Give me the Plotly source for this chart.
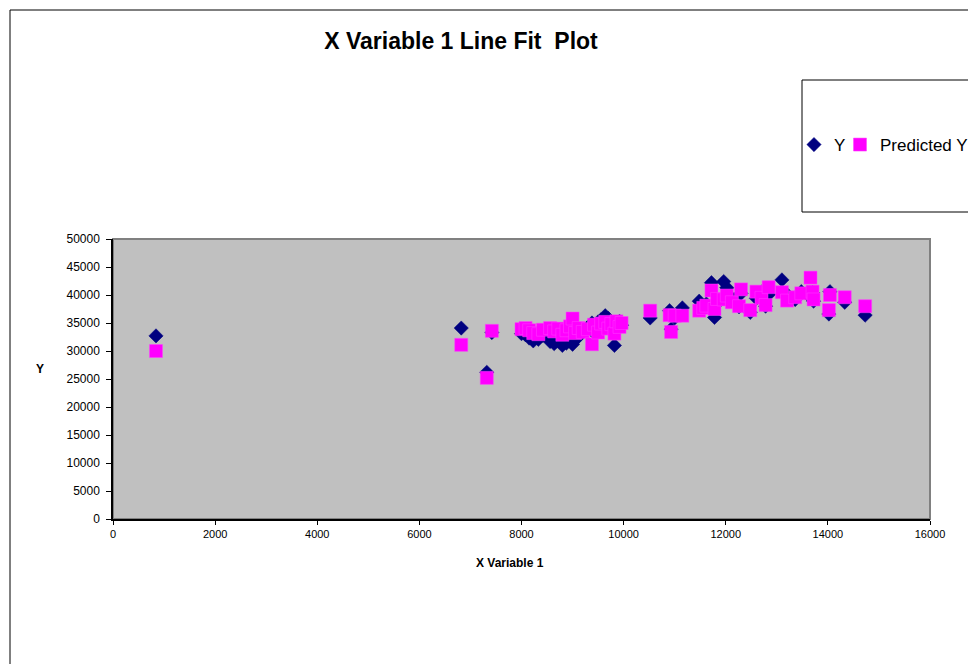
import plotly.graph_objects as go

# ---- data ----
x_var = [842, 6820, 7320, 7420, 8000, 8080, 8150, 8230, 8330, 8420, 8560, 8640, 8720, 8800,
         8880, 8950, 9000, 9050, 9120, 9200, 9300, 9380, 9420, 9500, 9560, 9640, 9700, 9760,
         9820, 9860, 9920, 9960, 10520, 10900, 10930, 11000, 11150, 11480, 11560, 11620,
         11720, 11780, 11830, 11960, 12020, 12120, 12300, 12260, 12480, 12600, 12700, 12840,
         12780, 13100, 13200, 13360, 13480, 13660, 13700, 13720, 14040, 14020, 14330, 14730]
y_obs = [32700, 34100, 26200, 33300, 33100, 32900, 32300, 31800, 32100, 32800, 31700, 31300,
         32200, 31000, 31400, 32600, 31200, 32000, 32600, 33500, 34200, 35000, 33300, 35200,
         35600, 36300, 35800, 34400, 31000, 34800, 35300, 34600, 35900, 37200, 33900, 35900,
         37700, 38900, 37600, 38400, 42200, 36000, 38500, 42400, 41300, 39400, 40300, 37900,
         36900, 39400, 40500, 40100, 38000, 42700, 40100, 39200, 40600, 39600, 40400, 38900,
         40600, 36600, 38700, 36400]
y_pred = [30000, 31100, 25200, 33600, 33900, 34100, 33700, 33200, 33000, 33800, 34100, 33500,
          34000, 32900, 33700, 34400, 35800, 33200, 34100, 33400, 33900, 31200, 34700, 33300,
          34900, 35200, 34000, 34800, 33100, 35300, 34300, 35000, 37200, 36400, 33400, 36300,
          36300, 37200, 37700, 38100, 40800, 37500, 39300, 39200, 39900, 38700, 41000, 38000,
          37300, 40600, 39500, 41400, 38200, 40500, 39000, 39600, 40300, 43100, 40600, 39200,
          40000, 37300, 39600, 38000]

x_ticks = [0, 2000, 4000, 6000, 8000, 10000, 12000, 14000, 16000]
y_ticks = [0, 5000, 10000, 15000, 20000, 25000, 30000, 35000, 40000, 45000, 50000]

title_text = "X Variable 1 Line Fit  Plot"
x_title = "X Variable 1"
y_title = "Y"

FONT = "Liberation Sans, Arial, sans-serif"

fig = go.Figure()
fig.add_trace(go.Scatter(
    x=x_var, y=y_obs, mode="markers", name="Y",
    marker=dict(symbol="diamond", size=11, color="#000080",
                line=dict(color="#000080", width=0.5)),
    legend="legend",
))
fig.add_trace(go.Scatter(
    x=x_var, y=y_pred, mode="markers", name="Predicted Y",
    marker=dict(symbol="square", size=13, color="#FF00FF",
                line=dict(color="#FF40FF", width=0.5)),
    legend="legend2",
))

# pixel geometry of the plot area
L, R, T, B = 113, 930, 239, 519
W, H = 968, 664
pw, ph = R - L, B - T

def px(xp):
    return (xp - L) / pw

def py(yp):
    return (B - yp) / ph

fig.update_layout(
    width=W, height=H,
    margin=dict(l=L, r=W - R, t=T, b=H - B, pad=0, autoexpand=False),
    paper_bgcolor="white",
    plot_bgcolor="#C0C0C0",
    font=dict(family=FONT, color="black", size=12),
    title=dict(text="<b>" + title_text + "</b>", x=461 / W, xanchor="center",
               y=1 - 41 / H, yanchor="middle", yref="container",
               font=dict(family=FONT, size=23, color="black")),
    xaxis=dict(range=[0, 16000], tickvals=x_ticks, ticktext=[str(v) for v in x_ticks],
               showgrid=False, zeroline=False, showline=True, linecolor="black",
               linewidth=1.5, ticks="outside", ticklen=4, tickcolor="black",
               tickfont=dict(size=11), fixedrange=True),
    yaxis=dict(range=[0, 50000], tickvals=y_ticks, ticktext=[str(v) for v in y_ticks],
               showgrid=False, zeroline=False, showline=True, linecolor="black",
               linewidth=1.5, ticks="outside", ticklen=5, tickcolor="black",
               ticklabelstandoff=4,
               tickfont=dict(size=12), fixedrange=True),
    legend=dict(orientation="h", x=px(794), y=py(145), xanchor="left", yanchor="middle",
                bgcolor="rgba(0,0,0,0)", borderwidth=0, font=dict(size=17),
                itemwidth=30),
    legend2=dict(orientation="h", x=px(840), y=py(145), xanchor="left", yanchor="middle",
                 bgcolor="rgba(0,0,0,0)", borderwidth=0, font=dict(size=17),
                 itemwidth=30),
    showlegend=True,
)

shapes = [
    # plot-area border (gray)
    dict(type="rect", xref="paper", yref="paper", x0=0, y0=0, x1=1, y1=1,
         line=dict(color="#808080", width=2), layer="below"),
    # outer chart frame
    dict(type="rect", xref="paper", yref="paper", x0=px(10), y0=py(700), x1=px(1000), y1=py(10),
         line=dict(color="black", width=1), layer="below"),
    # legend frame
    dict(type="rect", xref="paper", yref="paper", x0=px(802), y0=py(212), x1=px(1000), y1=py(80),
         line=dict(color="black", width=1), layer="below"),
]
fig.update_layout(shapes=shapes)

fig.add_annotation(text="<b>" + x_title + "</b>", xref="paper", yref="paper",
                   x=px(510), y=py(563), showarrow=False, xanchor="center", yanchor="middle",
                   font=dict(size=12, family=FONT))
fig.add_annotation(text="<b>" + y_title + "</b>", xref="paper", yref="paper",
                   x=px(40), y=py(369), showarrow=False, xanchor="center", yanchor="middle",
                   font=dict(size=12, family=FONT))

fig.write_html("out.html")
